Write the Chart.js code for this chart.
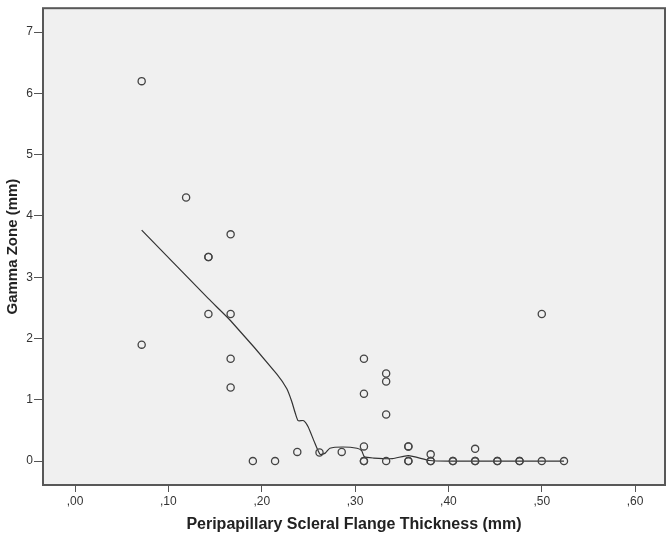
<!DOCTYPE html>
<html>
<head>
<meta charset="utf-8">
<script src="https://cdn.jsdelivr.net/npm/chart.js@4.4.1/dist/chart.umd.min.js"></script>
<style>
  html, body { margin: 0; padding: 0; background: #fff; }
  #wrap { width: 672px; height: 539px; }
</style>
</head>
<body>
<div id="wrap"><canvas id="scatterChart" width="672" height="539"></canvas></div>
<script>
// observed cases (thickness in mm, gamma zone in mm)
const thickness = [
  0.0714, 0.0714, 0.119, 0.1429, 0.1429, 0.1429,
  0.1667, 0.1667, 0.1667, 0.1667,
  0.1905, 0.2143, 0.2381, 0.2619, 0.2857,
  0.3095, 0.3095, 0.3095, 0.3095, 0.3095,
  0.3333, 0.3333, 0.3333, 0.3333,
  0.3571, 0.3571, 0.3571, 0.3571,
  0.3810, 0.3810, 0.3810,
  0.4048, 0.4048,
  0.4286, 0.4286, 0.4286,
  0.4524, 0.4524,
  0.4762, 0.4762,
  0.5, 0.5, 0.5238
];
const gammaZone = [
  6.2, 1.9, 4.3, 3.33, 3.33, 2.4,
  3.7, 2.4, 1.67, 1.2,
  0, 0, 0.15, 0.14, 0.15,
  1.67, 1.1, 0.24, 0, 0,
  1.43, 1.3, 0.76, 0,
  0.24, 0.24, 0, 0,
  0.11, 0, 0,
  0, 0,
  0.2, 0, 0,
  0, 0,
  0, 0,
  2.4, 0, 0
];

// loess fit line
const fitX = [0.0714, 0.1429, 0.1667, 0.2162, 0.2269, 0.232, 0.236, 0.239, 0.245, 0.2497,
  0.257, 0.2626, 0.268, 0.273, 0.287, 0.302, 0.307, 0.310, 0.320, 0.340, 0.357, 0.380, 0.40, 0.5238];
const fitY = [3.77, 2.65, 2.29, 1.42, 1.18, 0.98, 0.78, 0.66, 0.66, 0.56,
  0.29, 0.11, 0.13, 0.21, 0.23, 0.21, 0.17, 0.07, 0.05, 0.04, 0.09, 0.01, 0.0, 0.0];

const xTicks = [0, 0.1, 0.2, 0.3, 0.4, 0.5, 0.6];
const xTickLabels = [',00', ',10', ',20', ',30', ',40', ',50', ',60'];
const yTicks = [0, 1, 2, 3, 4, 5, 6, 7];

// grey plot area with a dark frame, like SPSS
const plotFrame = {
  id: 'plotFrame',
  beforeDraw(chart) {
    const { ctx, chartArea: a } = chart;
    ctx.save();
    ctx.fillStyle = '#f0f0f0';
    ctx.fillRect(a.left, a.top, a.width, a.height);
    ctx.strokeStyle = '#585858';
    ctx.lineWidth = 2;
    ctx.strokeRect(a.left, a.top, a.width, a.height);
    ctx.restore();
  }
};

const ctx = document.getElementById('scatterChart').getContext('2d');
new Chart(ctx, {
  type: 'scatter',
  data: {
    datasets: [{
      label: 'Cases',
      data: thickness.map((x, i) => ({ x: x, y: gammaZone[i] })),
      pointStyle: 'circle',
      pointRadius: 3.6,
      pointBorderWidth: 1.3,
      pointBorderColor: '#444',
      pointBackgroundColor: 'rgba(0,0,0,0)',
      showLine: false
    }, {
      label: 'Fit',
      data: fitX.map((x, i) => ({ x: x, y: fitY[i] })),
      showLine: true,
      pointRadius: 0,
      borderColor: '#333',
      borderWidth: 1.2,
      tension: 0.2
    }]
  },
  options: {
    responsive: false,
    animation: false,
    devicePixelRatio: 1,
    layout: { padding: { top: 5, right: 7, left: 0, bottom: 0 } },
    plugins: { legend: { display: false }, tooltip: { enabled: false } },
    scales: {
      x: {
        type: 'linear',
        min: -0.0343,
        max: 0.632,
        afterFit: function(scale) { scale.height = 54; },
        afterBuildTicks: function(scale) { scale.ticks = xTicks.map(v => ({ value: v })); },
        border: { display: false },
        grid: { drawOnChartArea: false, drawTicks: true, tickLength: 7, color: '#555' },
        ticks: {
          padding: 2,
          color: '#333',
          font: { family: 'Liberation Sans, Arial, sans-serif', size: 12 },
          callback: function(value) {
            const i = xTicks.indexOf(value);
            return i >= 0 ? xTickLabels[i] : '';
          }
        },
        title: {
          display: true,
          text: 'Peripapillary Scleral Flange Thickness (mm)',
          color: '#222',
          font: { family: 'Liberation Sans, Arial, sans-serif', size: 16, weight: 'bold' },
          padding: { top: 0, bottom: 5 }
        }
      },
      y: {
        type: 'linear',
        min: -0.39,
        max: 7.39,
        afterFit: function(scale) { scale.width = 43; },
        afterBuildTicks: function(scale) { scale.ticks = yTicks.map(v => ({ value: v })); },
        border: { display: false },
        grid: { drawOnChartArea: false, drawTicks: true, tickLength: 9, color: '#555' },
        ticks: {
          padding: 1,
          color: '#333',
          font: { family: 'Liberation Sans, Arial, sans-serif', size: 12 }
        },
        title: {
          display: true,
          text: 'Gamma Zone (mm)',
          color: '#222',
          font: { family: 'Liberation Sans, Arial, sans-serif', size: 15, weight: 'bold' },
          padding: { top: 4, bottom: 0 }
        }
      }
    }
  },
  plugins: [plotFrame]
});
</script>
</body>
</html>
